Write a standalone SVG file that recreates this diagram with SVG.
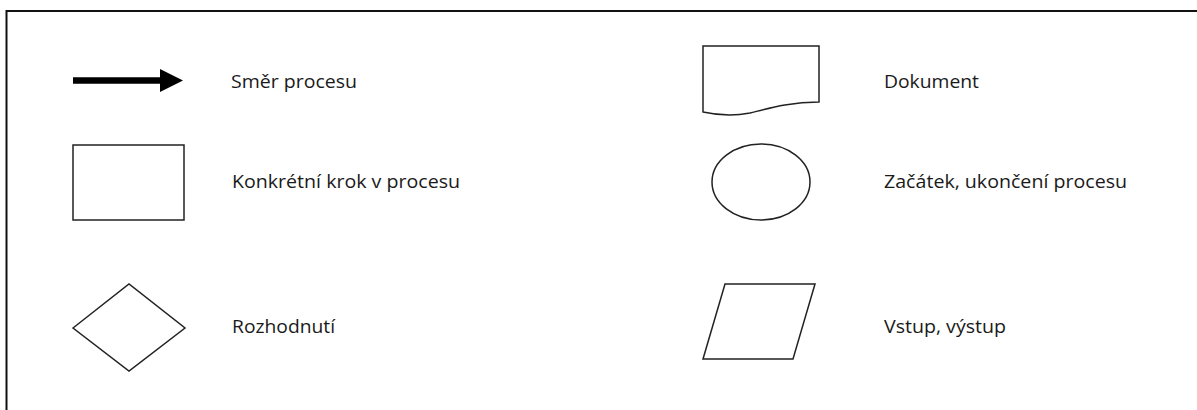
<svg xmlns="http://www.w3.org/2000/svg" width="1197" height="410" viewBox="0 0 1197 410">
<style>
.shape{fill:#fff;stroke:#222;stroke-width:1.5}
.lbl{font-family:"Open Sans","Liberation Sans",sans-serif;font-size:18px;fill:#1a1a1a}
</style>
<rect width="1197" height="410" fill="#fff"/>
<path d="M6.5,410 V11 H1197" fill="none" stroke="#111" stroke-width="2"/>
<g id="connectors">
<line x1="73" y1="80.5" x2="162" y2="80.5" stroke="#000" stroke-width="6.5"/>
<polygon points="160,69 183,80.5 160,92" fill="#000"/>
</g>
<text class="lbl" x="231" y="88" textLength="126" lengthAdjust="spacingAndGlyphs">Směr procesu</text>
<g id="process">
<rect class="shape" x="73" y="145" width="111" height="75"/>
</g>
<text class="lbl" x="232" y="188" textLength="228" lengthAdjust="spacingAndGlyphs">Konkrétní krok v procesu</text>
<g id="decision">
<polygon class="shape" points="73,328 129,284 185,328 129,371"/>
</g>
<text class="lbl" x="232" y="333" textLength="103" lengthAdjust="spacingAndGlyphs">Rozhodnutí</text>
<g id="document">
<path class="shape" d="M703,46 H819 V102 C790,102 770,108 750,113 C730,117 712,114 703,112 Z"/>
</g>
<text class="lbl" x="884" y="88" textLength="95" lengthAdjust="spacingAndGlyphs">Dokument</text>
<g id="terminator">
<ellipse class="shape" cx="761" cy="182" rx="49" ry="38"/>
</g>
<text class="lbl" x="884" y="188" textLength="243" lengthAdjust="spacingAndGlyphs">Začátek, ukončení procesu</text>
<g id="io">
<polygon class="shape" points="725,284 815,284 793,359 703,359"/>
</g>
<text class="lbl" x="884" y="333" textLength="122" lengthAdjust="spacingAndGlyphs">Vstup, výstup</text>
</svg>
